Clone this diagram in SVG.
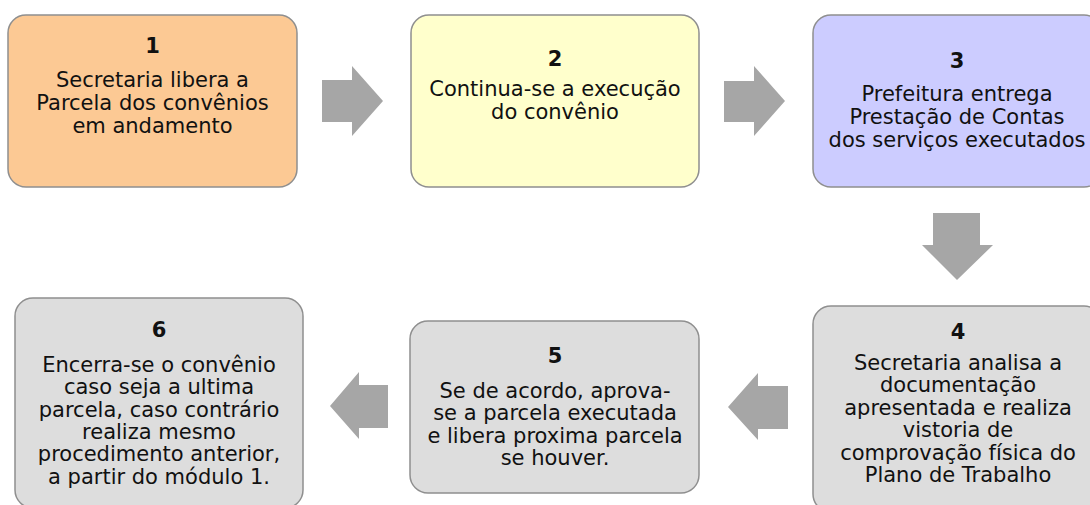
<svg xmlns="http://www.w3.org/2000/svg" width="1090" height="505" viewBox="0 0 1090 505">
<style>
.box{stroke:#8f8f8f;stroke-width:1.5}
.t{font-family:"DejaVu Sans",Verdana,sans-serif;font-size:21px;fill:#111;text-anchor:middle}
.n{font-weight:bold}
.arr{fill:#a6a6a6}
</style>
<rect width="1090" height="505" fill="#fff"/>
<g id="connectors">
<polygon class="arr" points="322,80 352,80 352,66 383,101 352,136 352,122 322,122"/>
<polygon class="arr" points="724,81 754,81 754,66 785,101 754,136 754,122 724,122"/>
<polygon class="arr" points="933,213 980,213 980,245 993,245 957,280 922,245 933,245"/>
<polygon class="arr" points="788,386 758,386 758,373 728,407 758,440 758,429 788,429"/>
<polygon class="arr" points="388,385 359,385 359,372 330,406 359,439 359,428 388,428"/>
</g>
<g id="node1">
<rect class="box" x="8" y="15" width="289" height="172" rx="18" fill="#fcc994"/>
<text class="t n" x="152.5" y="53">1</text>
<text class="t" x="152.5" y="87">Secretaria libera a</text>
<text class="t" x="152.5" y="110">Parcela dos convênios</text>
<text class="t" x="152.5" y="133">em andamento</text>
</g>
<g id="node2">
<rect class="box" x="411" y="15" width="288" height="172" rx="18" fill="#ffffcc"/>
<text class="t n" x="555" y="66">2</text>
<text class="t" x="555" y="96">Continua-se a execução</text>
<text class="t" x="555" y="119">do convênio</text>
</g>
<g id="node3">
<rect class="box" x="813" y="15" width="289" height="172" rx="18" fill="#ccccff"/>
<text class="t n" x="957" y="68">3</text>
<text class="t" x="957" y="101">Prefeitura entrega</text>
<text class="t" x="957" y="124">Prestação de Contas</text>
<text class="t" x="957" y="147">dos serviços executados</text>
</g>
<g id="node4">
<rect class="box" x="813" y="306" width="289" height="206" rx="18" fill="#dddddd"/>
<text class="t n" x="958" y="339">4</text>
<text class="t" x="958" y="370">Secretaria analisa a</text>
<text class="t" x="958" y="392.4">documentação</text>
<text class="t" x="958" y="414.8">apresentada e realiza</text>
<text class="t" x="958" y="437.2">vistoria de</text>
<text class="t" x="958" y="459.6">comprovação física do</text>
<text class="t" x="958" y="482">Plano de Trabalho</text>
</g>
<g id="node5">
<rect class="box" x="410" y="321" width="289" height="172" rx="18" fill="#dddddd"/>
<text class="t n" x="555" y="363">5</text>
<text class="t" x="555" y="398">Se de acordo, aprova-</text>
<text class="t" x="555" y="420.4">se a parcela executada</text>
<text class="t" x="555" y="442.8">e libera proxima parcela</text>
<text class="t" x="555" y="465.2">se houver.</text>
</g>
<g id="node6">
<rect class="box" x="15" y="298" width="288" height="210" rx="18" fill="#dddddd"/>
<text class="t n" x="159" y="337">6</text>
<text class="t" x="159" y="372">Encerra-se o convênio</text>
<text class="t" x="159" y="394.3">caso seja a ultima</text>
<text class="t" x="159" y="416.6">parcela, caso contrário</text>
<text class="t" x="159" y="438.9">realiza mesmo</text>
<text class="t" x="159" y="461.2">procedimento anterior,</text>
<text class="t" x="159" y="483.5">a partir do módulo 1.</text>
</g>
</svg>
